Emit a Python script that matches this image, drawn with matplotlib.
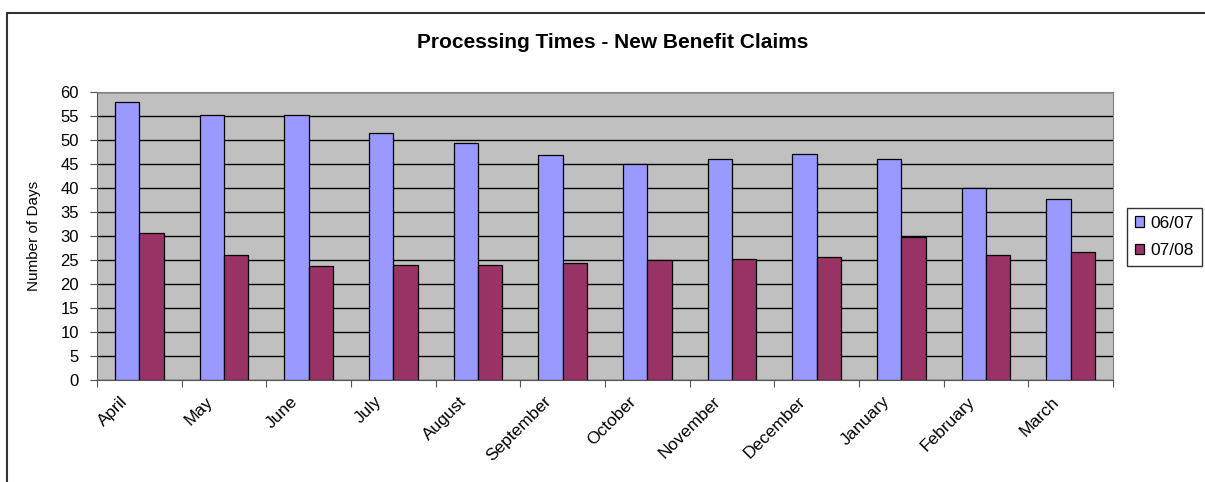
import numpy as np
import matplotlib.pyplot as plt
from matplotlib.patches import Rectangle
from matplotlib.transforms import ScaledTranslation

plt.rcParams['font.family'] = ['Liberation Sans', 'DejaVu Sans']

# Monthly processing times (days) for two financial years
months = ['April', 'May', 'June', 'July', 'August', 'September',
          'October', 'November', 'December', 'January', 'February', 'March']
days_0607 = [57.9, 55.3, 55.3, 51.4, 49.3, 46.8, 44.9, 46.0, 47.0, 46.0, 40.0, 37.7]
days_0708 = [30.6, 26.0, 23.7, 23.9, 23.9, 24.4, 24.9, 25.3, 25.6, 29.7, 26.0, 26.7]
series_labels = ['06/07', '07/08']

W, H = 1205, 482
fig = plt.figure(figsize=(W / 100, H / 100), dpi=100)

# chart border (runs off the right and bottom edges)
fig.patches.append(Rectangle((7 / W, -0.05), 1.1, 1 - 13 / H + 0.05,
                             transform=fig.transFigure, fill=False,
                             edgecolor='#333333', linewidth=1.5))

ax = fig.add_axes([97 / W, 1 - 380 / H, (1113 - 97) / W, (380 - 92) / H])
ax.set_facecolor('#C0C0C0')

x = np.arange(len(months))
bw = 0.2875
ax.bar(x - bw / 2, days_0607, bw, color='#9999FF', edgecolor='black',
       linewidth=0.9, label=series_labels[0], zorder=3)
ax.bar(x + bw / 2, days_0708, bw, color='#993366', edgecolor='black',
       linewidth=0.9, label=series_labels[1], zorder=3)

ax.set_xlim(-0.5, len(months) - 0.5)
ax.set_ylim(0, 60)
ax.set_yticks(np.arange(0, 61, 5))
ax.yaxis.grid(True, color='black', linewidth=1.0, zorder=1)
ax.set_axisbelow(True)

# category boundary ticks, labels centred under each pair
ax.set_xticks(np.arange(-0.5, len(months), 1.0))
ax.set_xticklabels([])
ax.set_xticks(x, minor=True)
ax.set_xticklabels(months, minor=True, rotation=45, ha='right',
                   rotation_mode='anchor', fontsize=12.5)
ax.tick_params(axis='x', which='minor', length=0, pad=10)
ax.tick_params(axis='x', which='major', length=5, color='#555555')
ax.tick_params(axis='y', length=5, labelsize=12, color='#555555', pad=8)

# nudge the slanted month names left so they end under the bars
shift = ScaledTranslation(-0.19, 0, fig.dpi_scale_trans)
for lbl in ax.get_xticklabels(minor=True):
    lbl.set_transform(lbl.get_transform() + shift)

for side in ['top', 'right']:
    ax.spines[side].set_color('#808080')
for side in ['left', 'bottom']:
    ax.spines[side].set_color('#555555')

ax.set_ylabel('Number of Days', fontsize=11, labelpad=14)

fig.text(613 / W, 1 - 42 / H, 'Processing Times - New Benefit Claims',
         ha='center', va='center', fontsize=15, fontweight='bold')

leg = fig.legend(loc='upper left', bbox_to_anchor=(1127 / W, 1 - 208 / H),
                 fontsize=12.5, frameon=True, fancybox=False, shadow=False,
                 handlelength=0.55, handleheight=0.55, handletextpad=0.35,
                 borderpad=0.45, labelspacing=0.7, borderaxespad=0)
leg.get_frame().set_edgecolor('black')
leg.get_frame().set_linewidth(1.0)

fig.savefig('out.png', dpi=100)
